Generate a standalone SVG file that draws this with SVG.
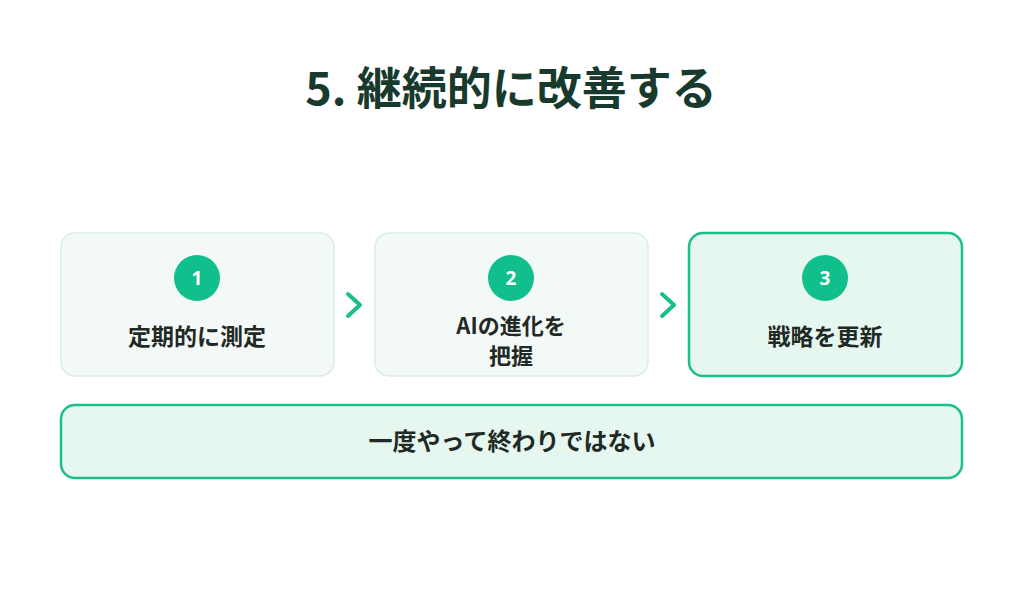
<svg xmlns="http://www.w3.org/2000/svg" width="1024" height="594" viewBox="0 0 1024 594">
<style>
.t{font-family:"Noto Sans CJK JP","Noto Sans",sans-serif;font-weight:700;fill:#1f2a25;text-anchor:middle}
.box{fill:#f3f9f6;stroke:#d9eee5;stroke-width:1.5}
.hl{fill:#e6f7f0;stroke:#1abf8c;stroke-width:2.5}
.num{fill:#10bf8b}
.nt{font-family:"Noto Sans","Liberation Sans",sans-serif;font-weight:700;fill:#fff;text-anchor:middle;font-size:19px}
.chev{fill:none;stroke:#16bf8c;stroke-width:4;stroke-linecap:round;stroke-linejoin:round}
</style>
<rect width="1024" height="594" fill="#fff"/>
<text class="t" x="511" y="105" font-size="45" style="fill:#183a2d">5. 継続的に改善する</text>
<g id="n1">
<rect class="box" x="61" y="233" width="273" height="143" rx="14"/>
<circle class="num" cx="197" cy="278" r="23"/>
<text class="nt" x="197" y="285">1</text>
<text class="t" x="197" y="345" font-size="23">定期的に測定</text>
</g>
<g id="n2">
<rect class="box" x="375" y="233" width="273" height="143" rx="14"/>
<circle class="num" cx="511" cy="278" r="23"/>
<text class="nt" x="511" y="285">2</text>
<text class="t" x="511" y="334" font-size="22">AIの進化を</text>
<text class="t" x="511" y="364" font-size="22">把握</text>
</g>
<g id="n3">
<rect class="hl" x="689" y="233" width="273" height="143" rx="14"/>
<circle class="num" cx="825" cy="278" r="23"/>
<text class="nt" x="825" y="285">3</text>
<text class="t" x="825" y="345" font-size="23">戦略を更新</text>
</g>
<g id="n4">
<rect class="hl" x="61" y="405" width="901" height="73" rx="14"/>
<text class="t" x="512" y="450" font-size="24">一度やって終わりではない</text>
</g>
<g id="connectors">
<path class="chev" d="M348 294 L360 305 L348 316"/>
<path class="chev" d="M662 294 L674 305 L662 316"/>
</g>
</svg>
